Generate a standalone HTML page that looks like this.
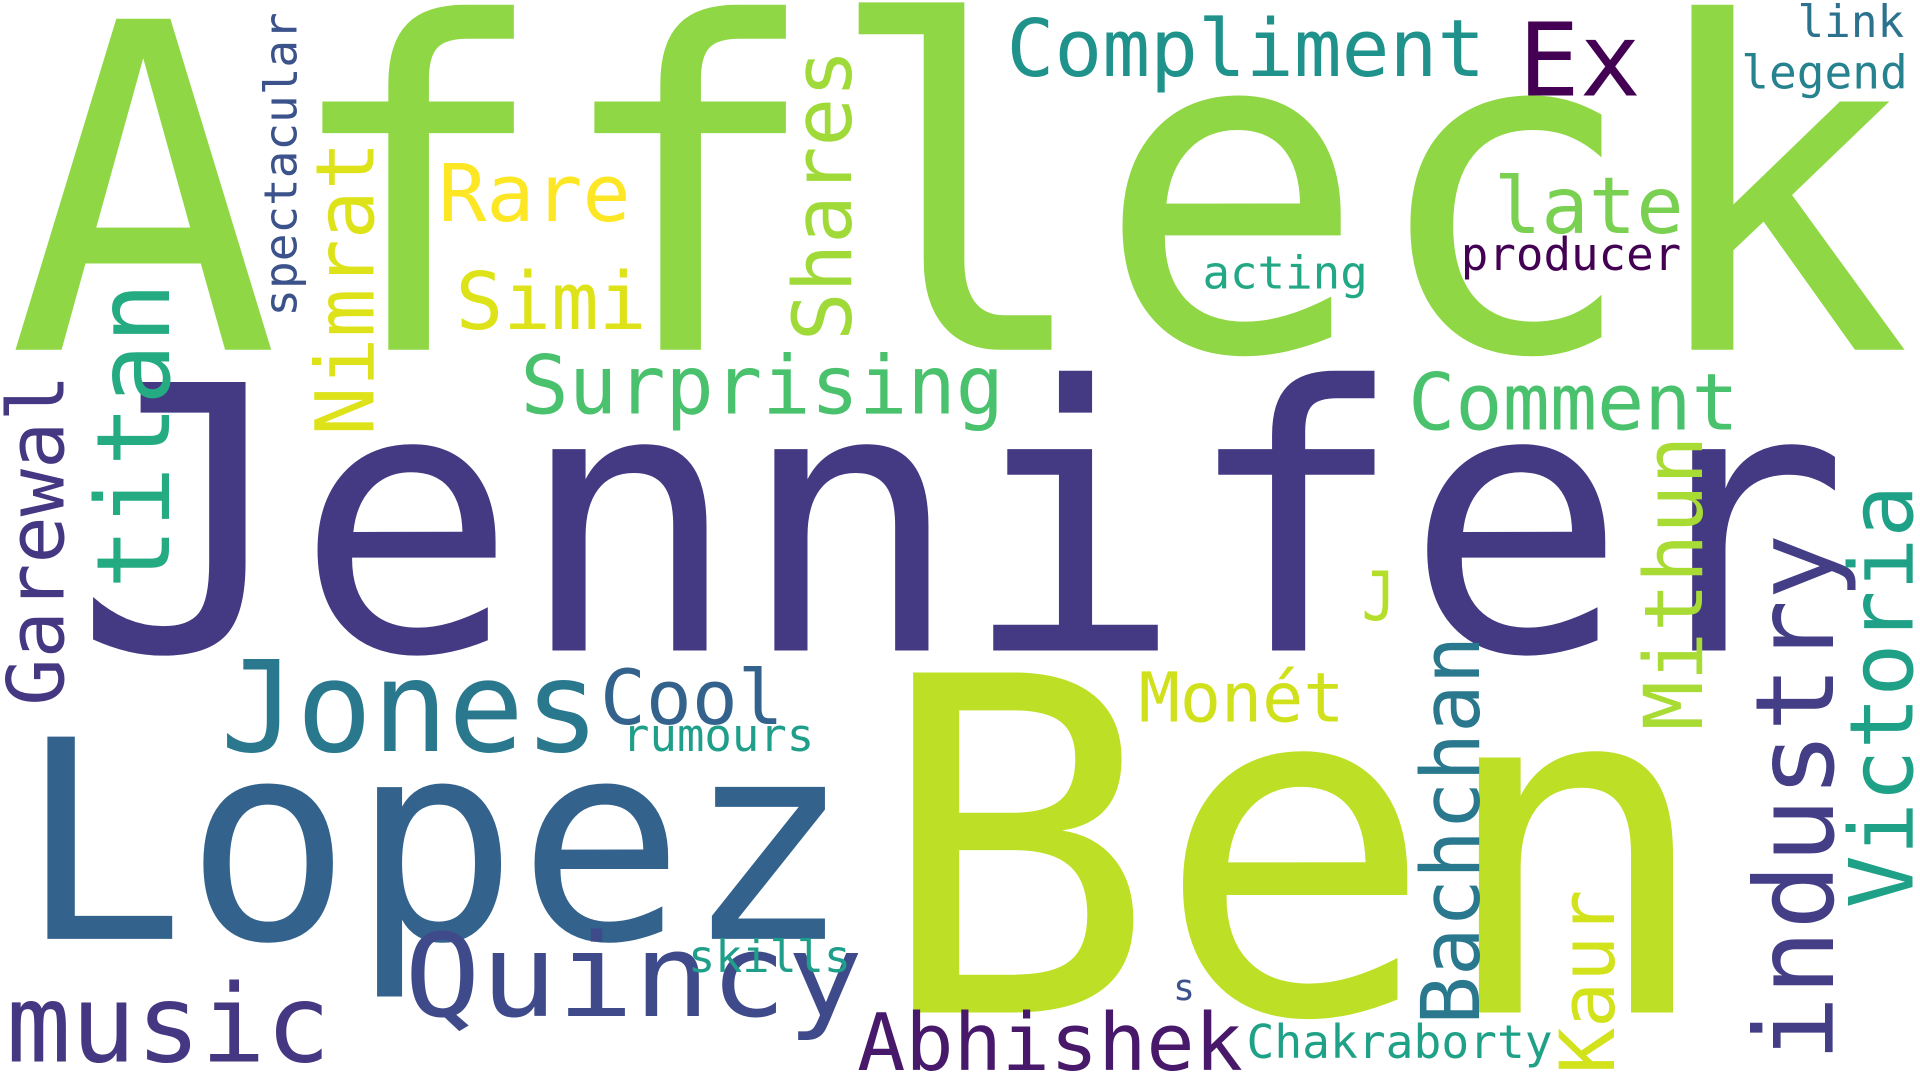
<!DOCTYPE html>
<html><head><meta charset="utf-8"><title>Word cloud</title>
<style>
html,body{margin:0;padding:0;background:#fff;width:1920px;height:1080px;overflow:hidden}
svg{display:block}
text{font-family:"DejaVu Sans Mono","Liberation Mono",monospace}
</style></head>
<body>
<svg id="cloud" width="1920" height="1080" viewBox="0 0 1568 880" preserveAspectRatio="none" xmlns="http://www.w3.org/2000/svg">
<rect width="1568" height="880" fill="#ffffff"/>
</svg>
<script>
const words  = ["Affleck","Jennifer","Ben","Lopez","Quincy","music","Abhishek","Jones","Cool","rumours","skills","Chakraborty","s","Monét","J","Surprising","Comment","Simi","Rare","Compliment","Ex","late","acting","producer","link","legend","titan","Garewal","Nimrat","spectacular","Shares","Bachchan","Mithun","industry","Victoria","Kaur"];
const sizes  = [370,300,380,226,94,88,65,103,62,37,36,38,30,56,55,66,64,65,65,65,83,64,37,37,36,38,83,64,66,37,66,66,66,89,72,62];
const xs     = [6,60,715,15,330,5,700,180,490,508,562,1018,958,930,1112,425,1150,372,358,822,1240,1220,982,1193,1468,1422,138,52,305,242,695,1208,1390,1497,1562,1318];
const ys     = [285,530,825,765,828,865,872,612,590,612,792,862,815,588,505,337,350,268,180,62,78,190,235,220,30,72,480,575,355,258,278,835,595,865,740,875];
const lens   = [1555,1450,685,680,375,265,315,310,150,157,133,250,18,168,28,395,270,156,157,391,100,155,135,180,87,136,250,270,240,248,238,317,240,430,345,150];
const rots   = [0,0,0,0,0,0,0,0,0,0,0,0,0,0,0,0,0,0,0,0,0,0,0,0,0,0,-90,-90,-90,-90,-90,-90,-90,-90,-90,-90];
const colors = ["#8fd744","#443983","#bddf26","#33638d","#3e4a89","#453781","#48186a","#2a788e","#33638d","#1f9e89","#1f9e89","#1fa188","#3b528b","#d0e11c","#b5de2b","#4ac16d","#4ac16d","#dde318","#fde725","#20928c","#440154","#7ad151","#22a884","#440154","#2c728e","#26828e","#25ab82","#453781","#dde318","#3b528b","#a0da39","#2a788e","#a8db34","#433e85","#1fa187","#d2e21b"];

const svg = document.getElementById('cloud');
const NS = "http://www.w3.org/2000/svg";
for (let i = 0; i < words.length; i++) {
  const t = document.createElementNS(NS, 'text');
  t.setAttribute('x', xs[i]);
  t.setAttribute('y', ys[i]);
  t.setAttribute('font-size', sizes[i]);
  t.setAttribute('fill', colors[i]);
  t.setAttribute('textLength', lens[i]);
  t.setAttribute('lengthAdjust', 'spacingAndGlyphs');
  if (rots[i]) t.setAttribute('transform', 'rotate(' + rots[i] + ' ' + xs[i] + ' ' + ys[i] + ')');
  t.textContent = words[i];
  
  
  svg.appendChild(t);
}
</script>
</body></html>
